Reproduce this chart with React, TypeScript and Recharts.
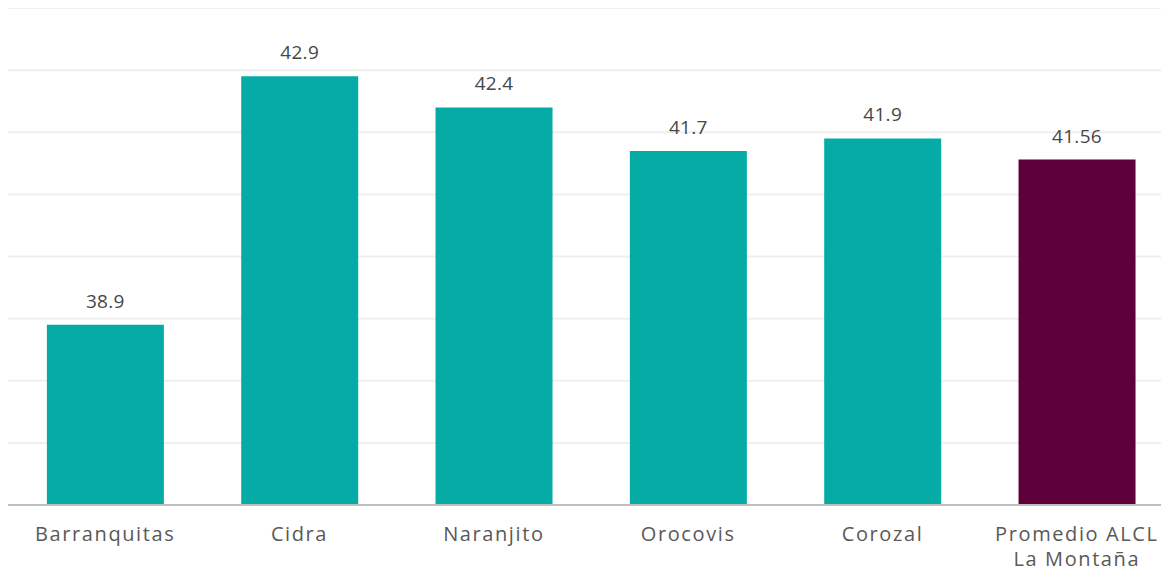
import { BarChart, Bar, XAxis, YAxis, CartesianGrid, LabelList, Cell } from 'recharts';

const municipios = ['Barranquitas', 'Cidra', 'Naranjito', 'Orocovis', 'Corozal', 'Promedio ALCL\nLa Montaña'];
const edadMediana = [38.9, 42.9, 42.4, 41.7, 41.9, 41.56];
const yTicks = [36, 37, 38, 39, 40, 41, 42, 43, 44];

const TEAL = '#05ABA5';
const PURPLE = '#5E013B';
const FONT = '"Open Sans", "DejaVu Sans", sans-serif';

const data = municipios.map((name, i) => ({ name, value: edadMediana[i] }));

// x-axis labels, with a line break for the long one
const CategoryTick = (props: any) => {
  const { x, y, payload } = props;
  const lines = String(payload.value).split('\n');
  return (
    <text x={x} y={y + 8} textAnchor="middle" fill="#595959" fontSize={20} fontFamily={FONT} letterSpacing={1.6}>
      {lines.map((line, i) => (
        <tspan key={i} x={x} dy={i === 0 ? 20 : 25}>
          {line}
        </tspan>
      ))}
    </text>
  );
};

export default function App() {
  return (
    <div style={{ width: 1161, height: 563, overflow: 'hidden' }}>
      <BarChart
        width={1166}
        height={563}
        data={data}
        margin={{ top: 0, right: 0, bottom: 0, left: 0 }}
        barCategoryGap="20%"
      >
        <CartesianGrid vertical={false} stroke="#efefef" strokeWidth={2} />
        <XAxis
          dataKey="name"
          tickLine={false}
          axisLine={{ stroke: '#bfbfbf', strokeWidth: 2 }}
          tick={<CategoryTick />}
          interval={0}
          height={66}
        />
        <YAxis hide domain={[36, 44]} ticks={yTicks} />
        <Bar dataKey="value" isAnimationActive={false}>
          {data.map((d, i) => (
            <Cell key={d.name} fill={i === data.length - 1 ? PURPLE : TEAL} />
          ))}
          <LabelList
            dataKey="value"
            position="top"
            offset={17}
            fill="#474747"
            fontSize={19}
            fontFamily={FONT}
            letterSpacing={0.3}
          />
        </Bar>
      </BarChart>
    </div>
  );
}
